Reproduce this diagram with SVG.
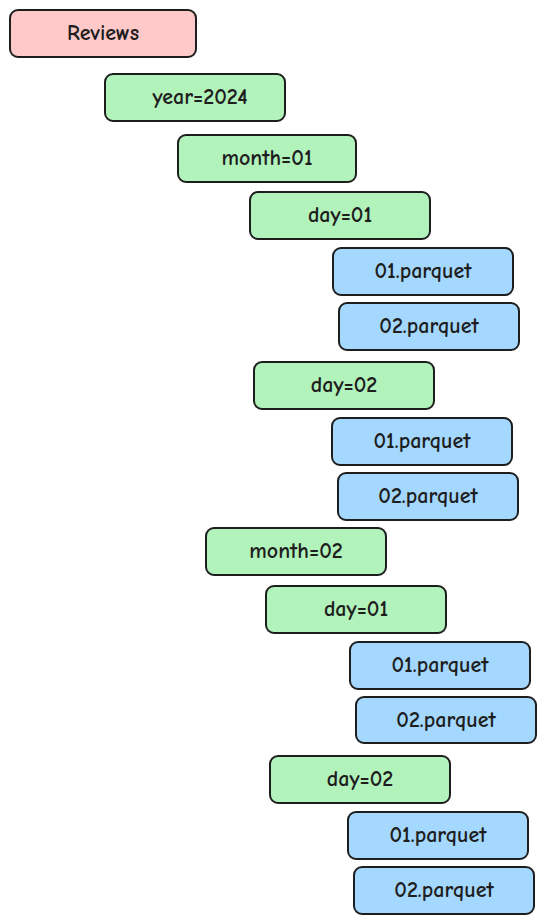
<svg xmlns="http://www.w3.org/2000/svg" width="545" height="924" viewBox="0 0 545 924">
<style>
rect{stroke:#1e1e1e;stroke-width:2;}
.r{fill:#ffc9c9;}
.g{fill:#b2f2bb;}
.b{fill:#a5d8ff;}
text{font-family:"Comic Neue","Liberation Sans",sans-serif;font-size:22px;font-weight:700;fill:#1e1e1e;text-anchor:middle;dominant-baseline:central;}
</style>
<rect width="545" height="924" fill="#ffffff" style="stroke:none"/>
<g id="reviews"><rect class="r" x="10" y="10" width="186" height="47" rx="8"/><text x="103" y="33">Reviews</text></g>
<g id="year2024"><rect class="g" x="105" y="74" width="180" height="47" rx="8"/><text x="200" y="97">year=2024</text></g>
<g id="month01"><rect class="g" x="178" y="135" width="178" height="47" rx="8"/><text x="267" y="158">month=01</text></g>
<g id="m01_day01"><rect class="g" x="250" y="192" width="180" height="47" rx="8"/><text x="340" y="215">day=01</text></g>
<g id="m01_d01_p01"><rect class="b" x="333" y="248" width="180" height="47" rx="8"/><text x="423" y="271">01.parquet</text></g>
<g id="m01_d01_p02"><rect class="b" x="339" y="303" width="180" height="47" rx="8"/><text x="429" y="326">02.parquet</text></g>
<g id="m01_day02"><rect class="g" x="254" y="362" width="180" height="47" rx="8"/><text x="344" y="385">day=02</text></g>
<g id="m01_d02_p01"><rect class="b" x="332" y="418" width="180" height="47" rx="8"/><text x="422" y="441">01.parquet</text></g>
<g id="m01_d02_p02"><rect class="b" x="338" y="473" width="180" height="47" rx="8"/><text x="428" y="496">02.parquet</text></g>
<g id="month02"><rect class="g" x="206" y="528" width="180" height="47" rx="8"/><text x="296" y="551">month=02</text></g>
<g id="m02_day01"><rect class="g" x="266" y="586" width="180" height="47" rx="8"/><text x="356" y="609">day=01</text></g>
<g id="m02_d01_p01"><rect class="b" x="350" y="642" width="180" height="47" rx="8"/><text x="440" y="665">01.parquet</text></g>
<g id="m02_d01_p02"><rect class="b" x="356" y="697" width="180" height="46" rx="8"/><text x="446" y="719.5">02.parquet</text></g>
<g id="m02_day02"><rect class="g" x="270" y="756" width="180" height="47" rx="8"/><text x="360" y="779">day=02</text></g>
<g id="m02_d02_p01"><rect class="b" x="348" y="812" width="180" height="47" rx="8"/><text x="438" y="835">01.parquet</text></g>
<g id="m02_d02_p02"><rect class="b" x="354" y="867" width="180" height="47" rx="8"/><text x="444" y="890">02.parquet</text></g>
<g id="connectors"></g>
</svg>
